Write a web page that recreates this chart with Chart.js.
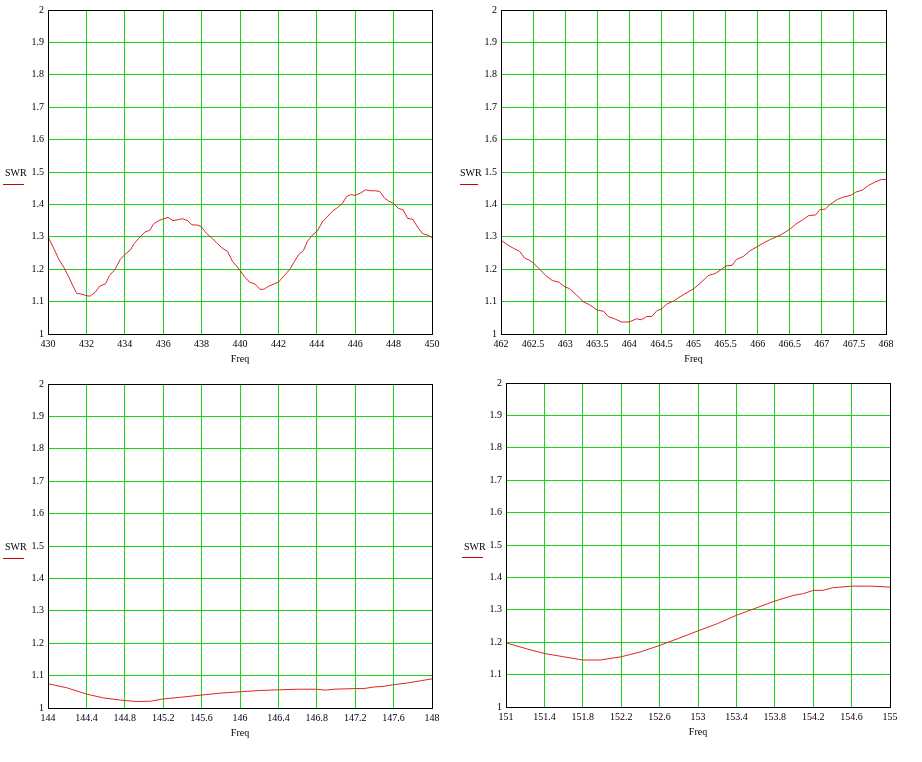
<!DOCTYPE html>
<html><head><meta charset="utf-8">
<script src="https://cdn.jsdelivr.net/npm/chart.js@4/dist/chart.umd.min.js"></script>
<style>
html,body{margin:0;padding:0;background:#fff;}
body{width:922px;height:762px;position:relative;overflow:hidden;font-family:'Liberation Serif','Times New Roman',serif;}
.box{position:absolute;}
.lbl{position:absolute;font-size:10px;line-height:12px;color:#000;white-space:nowrap;}
.leg{position:absolute;height:1px;background:#cc0000;}
</style></head><body>

<script>
// ---------- data ----------
const yTicks = [1, 1.1, 1.2, 1.3, 1.4, 1.5, 1.6, 1.7, 1.8, 1.9, 2];

const xTicks1 = [430, 432, 434, 436, 438, 440, 442, 444, 446, 448, 450];
const freq1 = [430, 430.3, 430.57, 430.83, 431.1, 431.3, 431.5, 431.77, 432, 432.2, 432.47, 432.7, 433, 433.2, 433.5, 433.76, 434, 434.3, 434.5, 434.8, 435.05, 435.3, 435.5, 435.76, 436, 436.25, 436.5, 436.8, 437, 437.26, 437.5, 437.8, 438, 438.26, 438.56, 438.8, 439.1, 439.35, 439.6, 440, 440.26, 440.52, 440.78, 441.04, 441.25, 441.5, 441.8, 442, 442.3, 442.6, 442.85, 443.05, 443.3, 443.5, 443.77, 444.03, 444.3, 444.55, 444.8, 445.07, 445.33, 445.55, 445.76, 446, 446.28, 446.54, 446.8, 447.05, 447.28, 447.52, 447.75, 448, 448.24, 448.5, 448.73, 449, 449.25, 449.5, 449.77, 450];
const swr1 = [1.30, 1.264, 1.23, 1.205, 1.174, 1.148, 1.125, 1.123, 1.118, 1.117, 1.13, 1.148, 1.155, 1.18, 1.2, 1.23, 1.245, 1.26, 1.28, 1.30, 1.315, 1.32, 1.34, 1.35, 1.355, 1.36, 1.35, 1.353, 1.356, 1.35, 1.337, 1.336, 1.33, 1.31, 1.295, 1.28, 1.264, 1.255, 1.225, 1.197, 1.174, 1.16, 1.154, 1.138, 1.138, 1.148, 1.155, 1.16, 1.18, 1.2, 1.225, 1.245, 1.257, 1.285, 1.305, 1.318, 1.347, 1.362, 1.378, 1.39, 1.403, 1.424, 1.43, 1.428, 1.435, 1.445, 1.442, 1.442, 1.44, 1.42, 1.41, 1.403, 1.388, 1.383, 1.357, 1.354, 1.33, 1.31, 1.305, 1.298];

const xTicks2 = [462, 462.5, 463, 463.5, 464, 464.5, 465, 465.5, 466, 466.5, 467, 467.5, 468];
const freq2 = [462, 462.08, 462.19, 462.29, 462.37, 462.45, 462.5, 462.6, 462.7, 462.8, 462.9, 463, 463.07, 463.18, 463.28, 463.38, 463.5, 463.6, 463.67, 463.77, 463.88, 464, 464.11, 464.19, 464.27, 464.35, 464.43, 464.5, 464.58, 464.69, 464.79, 464.9, 465, 465.1, 465.23, 465.34, 465.44, 465.5, 465.6, 465.67, 465.78, 465.88, 466, 466.1, 466.2, 466.35, 466.5, 466.6, 466.7, 466.8, 466.9, 466.97, 467.05, 467.13, 467.24, 467.34, 467.45, 467.53, 467.63, 467.73, 467.84, 467.93, 468];
const swr2 = [1.29, 1.278, 1.265, 1.255, 1.234, 1.227, 1.22, 1.2, 1.18, 1.165, 1.16, 1.145, 1.14, 1.12, 1.1, 1.09, 1.074, 1.07, 1.054, 1.047, 1.037, 1.037, 1.047, 1.044, 1.054, 1.054, 1.072, 1.077, 1.092, 1.102, 1.115, 1.128, 1.139, 1.156, 1.18, 1.187, 1.2, 1.21, 1.212, 1.23, 1.24, 1.257, 1.27, 1.282, 1.292, 1.305, 1.323, 1.34, 1.352, 1.366, 1.367, 1.384, 1.385, 1.4, 1.415, 1.423, 1.428, 1.438, 1.444, 1.459, 1.47, 1.477, 1.477];

const xTicks3 = [144, 144.4, 144.8, 145.2, 145.6, 146, 146.4, 146.8, 147.2, 147.6, 148];
const freq3 = [144, 144.2, 144.4, 144.58, 144.8, 144.93, 145.07, 145.2, 145.38, 145.6, 145.8, 146, 146.2, 146.4, 146.6, 146.8, 146.89, 146.98, 147.2, 147.29, 147.4, 147.5, 147.6, 147.74, 147.88, 148];
const swr3 = [1.075, 1.062, 1.043, 1.031, 1.023, 1.02, 1.021, 1.028, 1.033, 1.04, 1.046, 1.05, 1.054, 1.056, 1.058, 1.058, 1.055, 1.058, 1.06, 1.06, 1.065, 1.067, 1.072, 1.077, 1.084, 1.09];

const xTicks4 = [151, 151.4, 151.8, 152.2, 152.6, 153, 153.4, 153.8, 154.2, 154.6, 155];
const freq4 = [151, 151.21, 151.4, 151.6, 151.8, 151.98, 152.2, 152.4, 152.6, 152.8, 153, 153.2, 153.4, 153.6, 153.8, 154.0, 154.1, 154.2, 154.3, 154.4, 154.6, 154.8, 155];
const swr4 = [1.198, 1.18, 1.165, 1.155, 1.145, 1.145, 1.155, 1.17, 1.19, 1.212, 1.235, 1.257, 1.283, 1.305, 1.327, 1.345, 1.35, 1.36, 1.36, 1.368, 1.373, 1.373, 1.37];

const seriesName = 'SWR';
const xTitle = 'Freq';

// ---------- layout ----------
const panels = [
  {x: freq1, y: swr1, ticks: xTicks1, left: 0,   top: 0,   w: 384, h: 325, lblX: 5,   lblY: 167, legX: 3,   legY: 184, legW: 21},
  {x: freq2, y: swr2, ticks: xTicks2, left: 453, top: 0,   w: 385, h: 325, lblX: 460, lblY: 167, legX: 460, legY: 184, legW: 18},
  {x: freq3, y: swr3, ticks: xTicks3, left: 0,   top: 374, w: 384, h: 325, lblX: 5,   lblY: 541, legX: 3,   legY: 558, legW: 21},
  {x: freq4, y: swr4, ticks: xTicks4, left: 458, top: 373, w: 384, h: 325, lblX: 464, lblY: 541, legX: 462, legY: 557, legW: 21},
];

const FONT = {family: "'Liberation Serif', 'Times New Roman', serif", size: 10};
const fmt = v => String(Number(Number(v).toFixed(3)));

const framePlugin = {
  id: 'frame',
  afterDatasetsDraw(chart) {
    const a = chart.chartArea, c = chart.ctx;
    c.save();
    c.strokeStyle = '#000';
    c.lineWidth = 1;
    c.strokeRect(a.left + 0.5, a.top + 0.5, a.right - a.left - 1 + 1, a.bottom - a.top - 1 + 1);
    c.restore();
  }
};

panels.forEach(p => {
  const box = document.createElement('div');
  box.className = 'box';
  box.style.left = p.left + 'px';
  box.style.top = p.top + 'px';
  box.style.width = (48 + p.w + 20) + 'px';
  box.style.height = (9 + p.h + 46) + 'px';
  const cv = document.createElement('canvas');
  box.appendChild(cv);
  document.body.appendChild(box);

  const lbl = document.createElement('div');
  lbl.className = 'lbl';
  lbl.style.left = p.lblX + 'px';
  lbl.style.top = p.lblY + 'px';
  lbl.textContent = seriesName;
  document.body.appendChild(lbl);
  const leg = document.createElement('div');
  leg.className = 'leg';
  leg.style.left = p.legX + 'px';
  leg.style.top = p.legY + 'px';
  leg.style.width = p.legW + 'px';
  document.body.appendChild(leg);

  new Chart(cv, {
    type: 'scatter',
    data: {
      datasets: [{
        label: seriesName,
        data: p.x.map((v, i) => ({x: v, y: p.y[i]})),
        showLine: true,
        borderColor: '#e02424',
        borderWidth: 1,
        pointRadius: 0,
        tension: 0,
      }]
    },
    options: {
      responsive: true,
      maintainAspectRatio: false,
      animation: false,
      layout: {padding: {top: 9, right: 20, left: 0, bottom: 0}},
      plugins: {legend: {display: false}, tooltip: {enabled: false}},
      scales: {
        x: {
          type: 'linear',
          min: p.ticks[0],
          max: p.ticks[p.ticks.length - 1],
          afterBuildTicks: s => { s.ticks = p.ticks.map(v => ({value: v})); },
          afterFit: s => { s.height = 46; },
          grid: {color: '#19d219', lineWidth: 1, drawTicks: false},
          border: {display: false},
          ticks: {font: FONT, color: '#000', padding: 4, maxRotation: 0, autoSkip: false, callback: v => fmt(v)},
          title: {display: true, text: xTitle, font: FONT, color: '#000', padding: {top: 0, bottom: 15}},
        },
        y: {
          type: 'linear',
          min: 1,
          max: 2,
          afterBuildTicks: s => { s.ticks = yTicks.map(v => ({value: v})); },
          afterFit: s => { s.width = 48; },
          grid: {color: '#19d219', lineWidth: 1, drawTicks: false},
          border: {display: false},
          ticks: {font: FONT, color: '#000', padding: 4, autoSkip: false, callback: v => fmt(v)},
        }
      }
    },
    plugins: [framePlugin]
  });
});
</script>
</body></html>
